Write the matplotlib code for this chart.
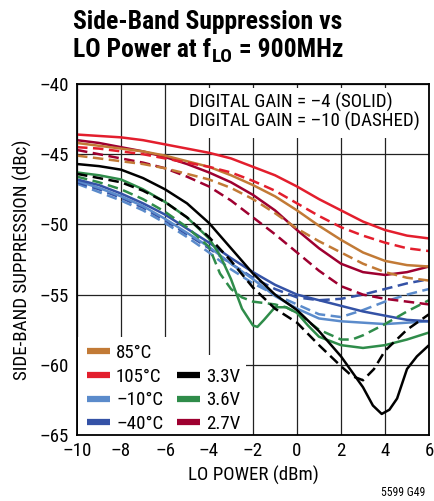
import os
import matplotlib
matplotlib.use("Agg")
import matplotlib.pyplot as plt
from matplotlib import font_manager
from matplotlib.font_manager import FontProperties
from matplotlib.lines import Line2D
from matplotlib.patches import Rectangle

# ---------------- data ----------------
lo_power = [-10, -9, -8, -7, -6, -5, -4, -3, -2, -1, 0, 1, 2, 3, 4, 5, 6]

t105_solid = [-43.6, -43.7, -43.8, -44.0, -44.3, -44.6, -44.9, -45.3, -45.9, -46.5, -47.3, -48.2, -49.0, -49.8, -50.4, -50.8, -51.0]
t105_dash = [-44.5, -44.6, -44.8, -45.0, -45.3, -45.6, -45.9, -46.3, -46.9, -47.6, -48.5, -49.4, -50.2, -50.8, -51.3, -51.7, -51.9]
t85_solid = [-44.2, -44.4, -44.6, -44.8, -45.1, -45.5, -45.9, -46.5, -47.2, -48.0, -49.0, -50.1, -51.1, -52.0, -52.6, -52.9, -53.0]
t85_dash = [-45.1, -45.3, -45.5, -45.7, -46.0, -46.4, -46.8, -47.4, -48.2, -49.2, -50.3, -51.2, -52.0, -52.8, -53.4, -53.8, -54.0]
v27_solid = [-44.0, -44.2, -44.5, -44.8, -45.2, -45.7, -46.3, -47.0, -47.9, -49.0, -50.4, -51.7, -52.8, -53.4, -53.6, -53.4, -53.0]
v27_dash = [-44.7, -45.0, -45.3, -45.6, -46.0, -46.6, -47.3, -48.3, -49.5, -50.7, -52.0, -53.3, -54.4, -55.0, -55.3, -55.5, -55.7]
tm40_solid = [-46.8, -47.2, -47.8, -48.5, -49.3, -50.3, -51.3, -52.4, -53.4, -54.3, -55.0, -55.4, -55.8, -56.2, -56.5, -56.8, -56.9]
tm10_solid = [-46.9, -47.4, -48.0, -48.7, -49.6, -50.6, -51.6, -52.8, -53.9, -55.1, -56.0, -56.7, -56.9, -57.0, -57.1, -57.0, -56.9]
tm40_dash = [-47.0, -47.5, -48.1, -48.8, -49.7, -50.7, -51.7, -52.8, -53.8, -54.6, -55.2, -55.4, -55.3, -55.0, -54.6, -54.2, -53.9]
tm10_dash = [-47.1, -47.7, -48.3, -49.0, -49.9, -50.9, -52.0, -53.2, -54.2, -55.0, -55.7, -56.4, -56.6, -56.1, -55.5, -55.0, -54.6]

v33_solid_x = [-10, -9, -8, -7, -6, -5, -4, -3, -2, -1, 0, 1, 2, 3, 3.45, 3.85, 4.2, 4.55, 5, 5.45, 6]
v33_solid = [-45.7, -45.85, -46.1, -46.7, -47.5, -48.5, -49.9, -51.7, -53.5, -55.0, -56.1, -57.6, -59.4, -61.6, -62.9, -63.5, -63.2, -62.4, -60.3, -59.4, -58.6]
v33_dash_x = [-10, -9, -8, -7, -6, -5, -4, -3, -2, -1, 0, 1, 2, 2.5, 3, 3.5, 4, 5, 6]
v33_dash = [-46.4, -46.7, -47.0, -47.6, -48.4, -49.5, -50.9, -52.6, -54.5, -56.0, -57.0, -58.6, -60.1, -60.8, -61.1, -60.3, -59.0, -57.5, -56.4]

v36_solid_x = [-10, -9, -8, -7, -6, -5, -4, -3.5, -3, -2.5, -2, -1.8, -1.5, -1, -0.5, 0, 0.5, 1, 2, 3, 4, 5, 6]
v36_solid = [-46.3, -46.5, -46.8, -47.5, -48.4, -49.5, -51.0, -52.2, -53.9, -56.0, -57.2, -57.3, -56.8, -55.9, -55.9, -56.3, -57.2, -58.0, -58.6, -58.8, -58.6, -58.2, -57.7]
v36_dash_x = [-10, -9, -8, -7, -6, -5, -4, -3.5, -3, -2.5, -2, -1.5, -1, -0.5, 0, 1, 2, 2.5, 3, 4, 5, 6]
v36_dash = [-46.6, -47.0, -47.5, -48.2, -49.1, -50.2, -51.6, -53.5, -54.6, -55.2, -55.5, -55.6, -55.7, -55.9, -56.3, -57.5, -58.2, -58.2, -57.9, -57.1, -56.2, -55.4]

temp_labels = ["85°C", "105°C", "\u201310°C", "\u201340°C"]
volt_labels = ["3.3V", "3.6V", "2.7V"]
x_ticks = [-10, -8, -6, -4, -2, 0, 2, 4, 6]
x_tick_labels = ["\u201310", "\u20138", "\u20136", "\u20134", "\u20132", "0", "2", "4", "6"]
y_ticks = [-65, -60, -55, -50, -45, -40]
y_tick_labels = ["\u201365", "\u201360", "\u201355", "\u201350", "\u201345", "\u201340"]

C85 = "#C27A36"
C105 = "#E31E2D"
CM10 = "#5B8BCB"
CM40 = "#3452A6"
C33 = "#000000"
C36 = "#2F8C4A"
C27 = "#9E0030"

# ---------------- fonts: look for a narrow / condensed sans ----------------
def _sv(s):
    return s if isinstance(s, int) else font_manager.stretch_dict.get(s, 500)

def _wv(w):
    return w if isinstance(w, int) else font_manager.weight_dict.get(w, 400)

PREF = ["Liberation Sans Narrow", "Roboto Condensed", "Open Sans Condensed", "Noto Sans",
        "Noto Sans Condensed", "DejaVu Sans Condensed", "DejaVu Sans", "Open Sans", "Roboto",
        "Lato", "Inter"]
groups = {}
for f in font_manager.fontManager.ttflist:
    if f.style != "normal":
        continue
    base = os.path.basename(f.fname)
    if "[" in base:
        continue
    narrow = ("Narrow" in f.name or "Condensed" in f.name or _sv(f.stretch) < 500
              or "Condensed" in base or "Narrow" in base)
    if not narrow:
        continue
    if "Extra" in base or "Ultra" in base or "Semi" in base:
        continue
    groups.setdefault(f.name, []).append(f)

REG = BOLD = None
ranked = sorted(groups, key=lambda n: PREF.index(n) if n in PREF else 99)
for name in ranked:
    fs = groups[name]
    reg = min(fs, key=lambda f: abs(_wv(f.weight) - 400))
    bld = min(fs, key=lambda f: abs(_wv(f.weight) - 700))
    if abs(_wv(reg.weight) - 400) <= 100 and abs(_wv(bld.weight) - 700) <= 100:
        REG = FontProperties(fname=reg.fname)
        BOLD = FontProperties(fname=bld.fname)
        break
if REG is None:
    REG = FontProperties(family="Liberation Sans")
    BOLD = FontProperties(family="Liberation Sans", weight="bold")

def fp(base, size):
    p = base.copy()
    p.set_size(size)
    return p

# ---------------- figure ----------------
W, H = 435, 501
fig = plt.figure(figsize=(W / 100, H / 100), dpi=100)
renderer = fig.canvas.get_renderer()
L, R, T, B = 77, 429, 84, 435
ax = fig.add_axes([L / W, 1 - B / H, (R - L) / W, (B - T) / H])

def width_px(s, prop):
    t = fig.text(0, 0, s, fontproperties=prop)
    w = t.get_window_extent(renderer).width
    t.remove()
    return w

# scale regular text so the annotation line matches the reference width (229 px)
s_reg = 13 * 229 / width_px("DIGITAL GAIN = \u201310 (DASHED)", fp(REG, 13))
s_reg = min(s_reg, 14.5)
# scale the title so its first line matches the reference width (269 px)
s_tit = 20 * 269 / width_px("Side-Band Suppression vs", fp(BOLD, 20))
s_tit = min(s_tit, 21)

def ax_x(px):
    return (px - L) / (R - L)

def ax_y(py):
    return (B - py) / (B - T)

ax.set_xlim(-10, 6)
ax.set_ylim(-65, -40)
ax.set_xticks(x_ticks, x_tick_labels)
ax.set_yticks(y_ticks, y_tick_labels)
ax.tick_params(length=0, pad=6)
ax.tick_params(axis="x", pad=5)
for lab in ax.get_xticklabels() + ax.get_yticklabels():
    lab.set_fontproperties(fp(REG, s_reg))
ax.grid(True, color="#222222", linewidth=0.9)
ax.set_axisbelow(True)
for s in ax.spines.values():
    s.set_linewidth(1.3)
    s.set_zorder(6)

LW = 1.8
DASH = (4.2, 2.2)

def solid(x, y, c):
    ax.plot(x, y, color=c, lw=LW, solid_capstyle="butt", zorder=3)

def dashed(x, y, c):
    ax.plot(x, y, color=c, lw=LW, dashes=DASH, dash_capstyle="butt", zorder=3)

dashed(lo_power, tm10_dash, CM10)
dashed(lo_power, tm40_dash, CM40)
solid(lo_power, tm10_solid, CM10)
solid(lo_power, tm40_solid, CM40)
dashed(v36_dash_x, v36_dash, C36)
solid(v36_solid_x, v36_solid, C36)
dashed(v33_dash_x, v33_dash, C33)
solid(v33_solid_x, v33_solid, C33)
dashed(lo_power, v27_dash, C27)
solid(lo_power, v27_solid, C27)
dashed(lo_power, t85_dash, C85)
solid(lo_power, t85_solid, C85)
dashed(lo_power, t105_dash, C105)
solid(lo_power, t105_solid, C105)

ax.set_xlabel("LO POWER (dBm)", fontproperties=fp(REG, s_reg), labelpad=4)
ax.set_ylabel("SIDE-BAND SUPPRESSION (dBc)", fontproperties=fp(REG, s_reg), labelpad=5)

# white areas behind the note and the legends
def white_box(x0, y0, x1, y1):
    ax.add_patch(Rectangle((ax_x(x0), ax_y(y1)), ax_x(x1) - ax_x(x0), ax_y(y0) - ax_y(y1),
                           transform=ax.transAxes, facecolor="white", edgecolor="none",
                           zorder=2.5))

white_box(170, 87.5, 428, 138)
white_box(77.5, 337, 172, 434.5)
white_box(172, 355, 246, 434.5)

# annotation
ax.text(ax_x(189), ax_y(108), "DIGITAL GAIN = \u20134 (SOLID)", transform=ax.transAxes,
        ha="left", va="baseline", fontproperties=fp(REG, s_reg), zorder=4)
ax.text(ax_x(189), ax_y(127), "DIGITAL GAIN = \u201310 (DASHED)", transform=ax.transAxes,
        ha="left", va="baseline", fontproperties=fp(REG, s_reg), zorder=4)

# legends
h_t = [Line2D([], [], color=c, lw=4.5, solid_capstyle="butt") for c in (C85, C105, CM10, CM40)]
h_v = [Line2D([], [], color=c, lw=4.5, solid_capstyle="butt") for c in (C33, C36, C27)]
fpx = s_reg * 100 / 72
common = dict(prop=fp(REG, s_reg), frameon=False, handlelength=23 / fpx,
              handletextpad=6 / fpx, labelspacing=0.3, borderpad=0, borderaxespad=0,
              loc="lower left")
leg1 = ax.legend(h_t, temp_labels, bbox_to_anchor=(ax_x(87), ax_y(433)), **common)
leg1.set_zorder(5)
ax.add_artist(leg1)
leg2 = ax.legend(h_v, volt_labels, bbox_to_anchor=(ax_x(177), ax_y(433)), **common)
leg2.set_zorder(5)

# title
x0 = 73
fig.text(x0 / W, 1 - 29 / H, "Side-Band Suppression vs", fontproperties=fp(BOLD, s_tit),
         ha="left", va="baseline")
p1 = "LO Power at f"
fig.text(x0 / W, 1 - 57 / H, p1, fontproperties=fp(BOLD, s_tit), ha="left", va="baseline")
w1 = width_px(p1, fp(BOLD, s_tit))
fig.text((x0 + w1 + 0.5) / W, 1 - 62 / H, "LO", fontproperties=fp(BOLD, s_tit * 0.75),
         ha="left", va="baseline")
w2 = width_px("LO", fp(BOLD, s_tit * 0.75))
fig.text((x0 + w1 + w2 + 1) / W, 1 - 57 / H, " = 900MHz", fontproperties=fp(BOLD, s_tit),
         ha="left", va="baseline")
fig.text(425 / W, 1 - 496 / H, "5599 G49", fontproperties=fp(REG, 8.5), ha="right",
         va="baseline")

fig.savefig("out.png", dpi=100)
